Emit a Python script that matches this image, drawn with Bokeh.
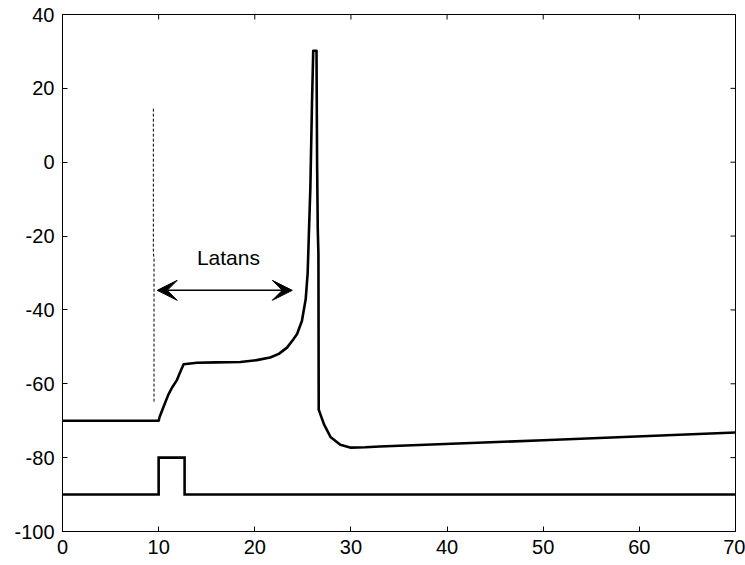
import math
from bokeh.plotting import figure
from bokeh.models import Range1d, FixedTicker, Arrow, VeeHead
from bokeh.core.properties import value
from bokeh.embed import file_html
from bokeh.resources import INLINE

# ---- data ----
trace_t = [0, 10.0, 10.1, 10.5, 11.0, 11.4, 11.9, 12.3, 12.6, 14.0, 16.0, 18.5, 20.2, 21.6,
           22.5, 23.35, 24.0, 24.4, 24.9, 25.3, 25.5, 25.62, 25.78, 25.95, 26.08, 26.42,
           26.48, 26.55, 26.62, 26.65, 27.2, 27.9, 28.9, 30.0, 31.5, 33.0, 50.0, 70.0]
trace_v = [-70, -70, -69, -66.3, -63, -61, -59, -56.5, -54.7, -54.3, -54.2, -54.1, -53.6, -52.9,
           -51.9, -50.2, -48, -46.5, -43, -37, -30, -20, -7, 16, 30.2, 30.2,
           0, -18, -25, -67, -71, -74.5, -76.5, -77.3, -77.2, -77.0, -75.3, -73.2]

stim_t = [0, 10, 10, 12.7, 12.7, 70]
stim_v = [-90, -90, -80, -80, -90, -90]

marker_t = [9.45, 9.45, 9.52, 9.52]
marker_v = [14.5, -24.5, -26, -65]

arrow_t = [9.85, 23.9]
arrow_v = -34.7
label_text = "Latans"
label_t = 17.26
label_v = -25.8

xticks = [0, 10, 20, 30, 40, 50, 60, 70]
yticks = [-100, -80, -60, -40, -20, 0, 20, 40]

FONT = "Liberation Sans"
FS = "20px"

p = figure(width=745, height=565, output_backend="svg", toolbar_location=None,
           x_range=Range1d(xticks[0], xticks[-1]), y_range=Range1d(yticks[0], yticks[-1]),
           min_border_left=62, min_border_right=10, min_border_top=14, min_border_bottom=34)
p.background_fill_color = "white"
p.border_fill_color = "white"
p.outline_line_color = "black"
p.outline_line_width = 1
p.xgrid.visible = False
p.ygrid.visible = False

for ax, ticks in ((p.xaxis[0], xticks), (p.yaxis[0], yticks)):
    ax.ticker = FixedTicker(ticks=ticks)
    ax.major_label_overrides = {t: str(t) for t in ticks}
    ax.major_tick_in = 5
    ax.major_tick_out = 0
    ax.minor_tick_in = 0
    ax.minor_tick_out = 0
    ax.major_label_standoff = 8
    ax.major_label_text_font = FONT
    ax.major_label_text_font_size = FS
    ax.major_label_text_color = "black"
    ax.axis_line_color = "black"
    ax.major_tick_line_color = "black"

# inward ticks on the top and right edges of the box
p.scatter(x=xticks, y=[yticks[-1]] * len(xticks), marker="dash", size=10, angle=math.pi / 2,
          line_color="black", line_width=1)
p.scatter(x=[xticks[-1]] * len(yticks), y=yticks, marker="dash", size=10,
          line_color="black", line_width=1)

p.line(stim_t, stim_v, line_color="black", line_width=2.6, line_join="miter")
p.line(trace_t, trace_v, line_color="black", line_width=2.6, line_join="round")
p.line(marker_t, marker_v, line_color="black", line_width=1, line_dash="3 2")

p.add_layout(Arrow(x_start=arrow_t[0], y_start=arrow_v, x_end=arrow_t[1], y_end=arrow_v,
                   line_color="black", line_width=1.5,
                   start=VeeHead(size=20, fill_color="black", line_color="black"),
                   end=VeeHead(size=20, fill_color="black", line_color="black")))

p.text(x=[label_t], y=[label_v], text=[label_text], text_align="center", text_baseline="middle",
       text_font=value(FONT), text_font_size="21px", text_color="black")

open("out.html", "w").write(file_html(p, INLINE))
